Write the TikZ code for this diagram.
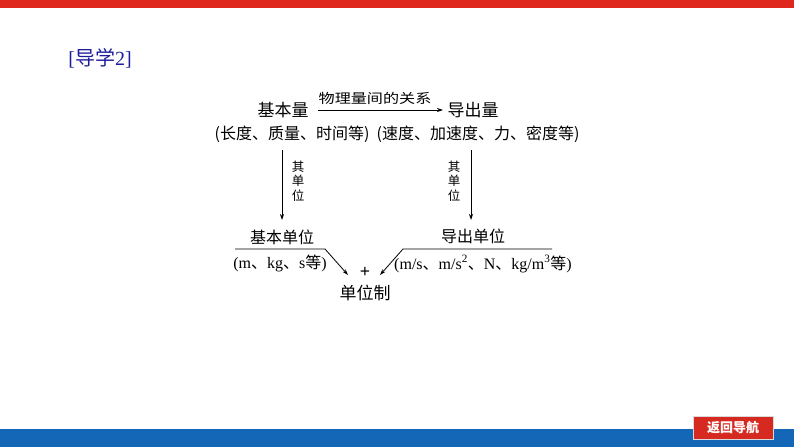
\documentclass[tikz,border=0pt]{standalone}
\usepackage{fontspec}
\setmainfont{Liberation Serif}
\newfontfamily\cjk{Noto Sans CJK SC}
\usetikzlibrary{arrows.meta}

\definecolor{topred}{HTML}{E0271D}
\definecolor{barblue}{HTML}{1466B6}
\definecolor{btnred}{HTML}{D62A20}
\definecolor{titleblue}{HTML}{1C1C9C}

\newcommand{\dun}{{\cjk 、}}

\begin{document}
\begin{tikzpicture}[x=1pt,y=-1pt,
    zh/.style={font=\cjk\fontsize{16}{16}\selectfont, inner sep=0pt},
    lat/.style={font=\fontsize{16}{16}\selectfont, inner sep=0pt},
    vlab/.style={font=\cjk\fontsize{12.5}{14.5}\selectfont, align=center, inner sep=0pt},
    conn/.style={line width=0.8pt, -{Stealth[length=6pt,width=4pt]}}]
    \useasboundingbox (0,0) rectangle (794,447);
    % frame of the slide
    \fill[topred] (0,0) rectangle (794,8);
    \fill[barblue] (0,429) rectangle (794,447);
    \node[draw=white!85!black, line width=0.8pt, fill=btnred, text=white,
        minimum width=80pt, minimum height=23pt, inner sep=0pt,
        font=\cjk\bfseries\fontsize{13}{13}\selectfont] (back) at (733,427.5) {返回导航};
    \node[text=titleblue, font=\fontsize{20}{20}\selectfont, inner sep=0pt] (title) at (100,58) {[{\cjk 导学}2]};
    % upper row
    \node[zh, font=\cjk\fontsize{17}{17}\selectfont] (jbl) at (283,110) {基本量};
    \node[zh, font=\cjk\fontsize{17}{17}\selectfont] (dcl) at (473,110) {导出量};
    \node[zh] (jblex) at (292,134) {(长度、质量、时间等)};
    \node[zh] (dclex) at (478,134) {(速度、加速度、力、密度等)};
    \coordinate (hA) at (318,110);
    \coordinate (hB) at (443,110);
    \draw[conn] (hA) -- (hB);
    \node[inner sep=0pt, font=\cjk\fontsize{14}{14}\selectfont] (rel) at (375,98) {\scalebox{1.15}[0.95]{物理量间的关系}};
    % lower row
    \node[zh] (jbdw) at (282,237) {基本单位};
    \node[zh] (dcdw) at (473,236) {导出单位};
    \node[lat] (jbex) at (280,263) {(m\dun kg\dun s{\cjk 等})};
    \node[lat] (dcex) at (483,264) {(m/s\dun m/s\textsuperscript{2}\dun N\dun kg/m\textsuperscript{3}{\cjk 等})};
    \coordinate (lT) at (282,150);
    \coordinate (lE) at (282,220);
    \coordinate (rT) at (471,150);
    \coordinate (rE) at (471,220);
    \draw[conn] (lT) -- (lE);
    \draw[conn] (rT) -- (rE);
    \node[vlab] (qdwL) at (298,181) {其\\单\\位};
    \node[vlab] (qdwR) at (454,181) {其\\单\\位};
    % result
    \node[inner sep=0pt, font=\bfseries\fontsize{18}{18}\selectfont] (plus) at (365,272) {+};
    \node[zh, font=\cjk\fontsize{17}{17}\selectfont] (dwz) at (365,293) {单位制};
    \coordinate (lA) at (235,249);
    \coordinate (lB) at (325,249);
    \coordinate (tipL) at (348,275);
    \coordinate (rA) at (552,249);
    \coordinate (rB) at (403,249);
    \coordinate (tipR) at (380,275);
    \draw[conn] (lA) -- (lB) -- (tipL);
    \draw[conn] (rA) -- (rB) -- (tipR);
\end{tikzpicture}
\end{document}
